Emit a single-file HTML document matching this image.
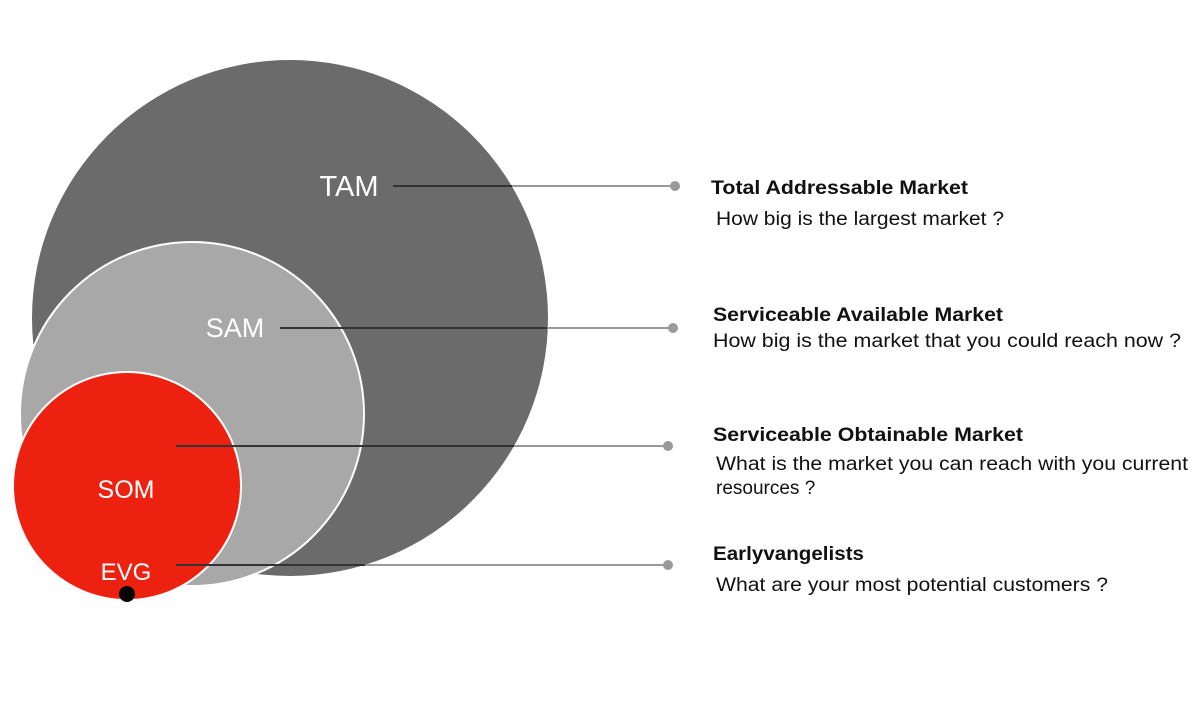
<!DOCTYPE html>
<html><head><meta charset="utf-8"><style>
body{margin:0;background:#fff}
svg text{font-family:"Liberation Sans",Arial,sans-serif}
</style></head><body>
<svg width="1200" height="705" viewBox="0 0 1200 705" xmlns="http://www.w3.org/2000/svg">
<rect width="1200" height="705" fill="#fff"/>
<circle cx="290" cy="318" r="258" fill="#6b6b6b"/>
<circle cx="192" cy="414" r="172" fill="#a8a8a8" stroke="#fff" stroke-width="2"/>
<circle cx="127" cy="486" r="114" fill="#ec210f" stroke="#fff" stroke-width="2"/>
<circle cx="127" cy="594" r="8" fill="#000"/>
<g stroke-width="2">
<line x1="393" y1="186" x2="675" y2="186" stroke="#999"/>
<line x1="393" y1="186" x2="512" y2="186" stroke="#333"/>
<line x1="280" y1="328" x2="673" y2="328" stroke="#999"/>
<line x1="280" y1="328" x2="547" y2="328" stroke="#333"/>
<line x1="176" y1="446" x2="668" y2="446" stroke="#999"/>
<line x1="176" y1="446" x2="514" y2="446" stroke="#333"/>
<line x1="176" y1="565" x2="668" y2="565" stroke="#999"/>
<line x1="176" y1="565" x2="365" y2="565" stroke="#333"/>
</g>
<g fill="#999"><circle cx="675" cy="186" r="5"/><circle cx="673" cy="328" r="5"/><circle cx="668" cy="446" r="5"/><circle cx="668" cy="565" r="5"/></g>
<g fill="#fff" text-anchor="middle">
<text x="349" y="196" font-size="29">TAM</text>
<text x="235" y="337" font-size="27">SAM</text>
<text x="126" y="498" font-size="25">SOM</text>
<text x="126" y="580" font-size="24">EVG</text>
</g>
<g fill="#111" font-size="19">
<text x="711" y="194" font-weight="bold" textLength="257" lengthAdjust="spacingAndGlyphs">Total Addressable Market</text>
<text x="716" y="225" textLength="288" lengthAdjust="spacingAndGlyphs">How big is the largest market ?</text>
<text x="713" y="321" font-weight="bold" textLength="290" lengthAdjust="spacingAndGlyphs">Serviceable Available Market</text>
<text x="713" y="347" textLength="468" lengthAdjust="spacingAndGlyphs">How big is the market that you could reach now ?</text>
<text x="713" y="441" font-weight="bold" textLength="310" lengthAdjust="spacingAndGlyphs">Serviceable Obtainable Market</text>
<text x="716" y="470" textLength="472" lengthAdjust="spacingAndGlyphs">What is the market you can reach with you current</text>
<text x="716" y="494">resources ?</text>
<text x="713" y="560" font-weight="bold" textLength="151" lengthAdjust="spacingAndGlyphs">Earlyvangelists</text>
<text x="716" y="591" textLength="392" lengthAdjust="spacingAndGlyphs">What are your most potential customers ?</text>
</g>
</svg>
</body></html>
